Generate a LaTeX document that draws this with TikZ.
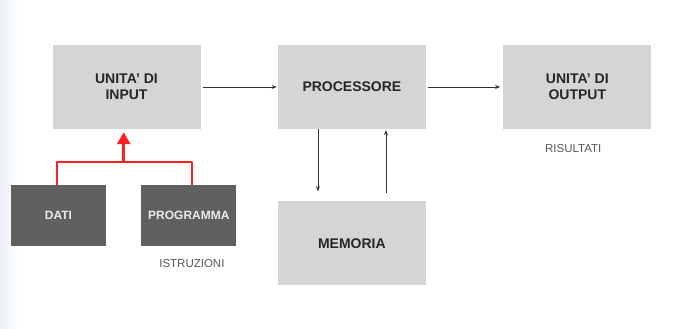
\documentclass[tikz,border=0pt]{standalone}
\usepackage{fontspec}
\setmainfont{Liberation Sans}
\usetikzlibrary{arrows.meta,calc,positioning}
\definecolor{boxgray}{RGB}{214,212,215}
\definecolor{boxdark}{RGB}{96,96,96}
\definecolor{flowred}{RGB}{250,32,38}
\definecolor{notegray}{RGB}{88,88,88}
\definecolor{edgeblue}{RGB}{236,239,247}

\begin{document}
\begin{tikzpicture}[x=1pt,y=1pt,>=Stealth,node distance=72pt and 77pt,
    unit/.style={rectangle,fill=boxgray,minimum width=148pt,minimum height=84pt,inner sep=0pt,align=center,
      font=\fontsize{14}{16}\selectfont\bfseries,text=black!85},
    source/.style={rectangle,fill=boxdark,minimum width=95pt,minimum height=61pt,inner sep=0pt,
      font=\fontsize{12}{14}\selectfont\bfseries,text=white!92!black},
    note/.style={font=\fontsize{11.5}{13}\selectfont,text=notegray},
    flow/.style={->,black!80,line width=0.8pt,>={Stealth[length=5pt,width=4pt]}},
    feed/.style={flowred,line width=2pt}]
    \useasboundingbox (0,0) rectangle (678,329);
    \fill[white] (0,0) rectangle (678,329);
    \shade[left color=edgeblue,right color=white] (0,0) rectangle (18,329);
    \node[unit] (input) at (126.5,242) {UNITA' DI\\INPUT};
    \node[unit,right=of input] (proc) {PROCESSORE};
    \node[unit,right=of proc] (out) {UNITA' DI\\OUTPUT};
    \node[unit,below=of proc] (mem) {MEMORIA};
    \node[source] (dati) at (58.5,113.5) {DATI};
    \node[source,right=35pt of dati] (prog) {PROGRAMMA};
    \node[note,below=12pt of out,xshift=-4pt] (ris) {RISULTATI};
    \node[note,below=10pt of prog,xshift=3pt] (istr) {ISTRUZIONI};
    \coordinate (junc) at ($(dati.north)!0.5!(prog.north)+(0,23)$);
    \draw[flow,shorten <=2pt,shorten >=1pt] (input) -- (proc);
    \draw[flow,shorten <=2pt,shorten >=3pt] (proc) -- (out);
    \draw[flow] ([xshift=-34pt]proc.south) -- ([xshift=-34pt,yshift=10pt]mem.north);
    \draw[flow] ([xshift=34pt,yshift=8pt]mem.north) -- ([xshift=34pt,yshift=-1pt]proc.south);
    \draw[feed,line join=round] ([xshift=-1.5pt]dati.north) -- ++(0,23) -| ([xshift=3.5pt]prog.north);
    \draw[feed,line width=2.6pt,-{Triangle[length=12pt,width=13pt]}] (junc) -- ([yshift=-3pt]junc |- input.south);
\end{tikzpicture}
\end{document}
